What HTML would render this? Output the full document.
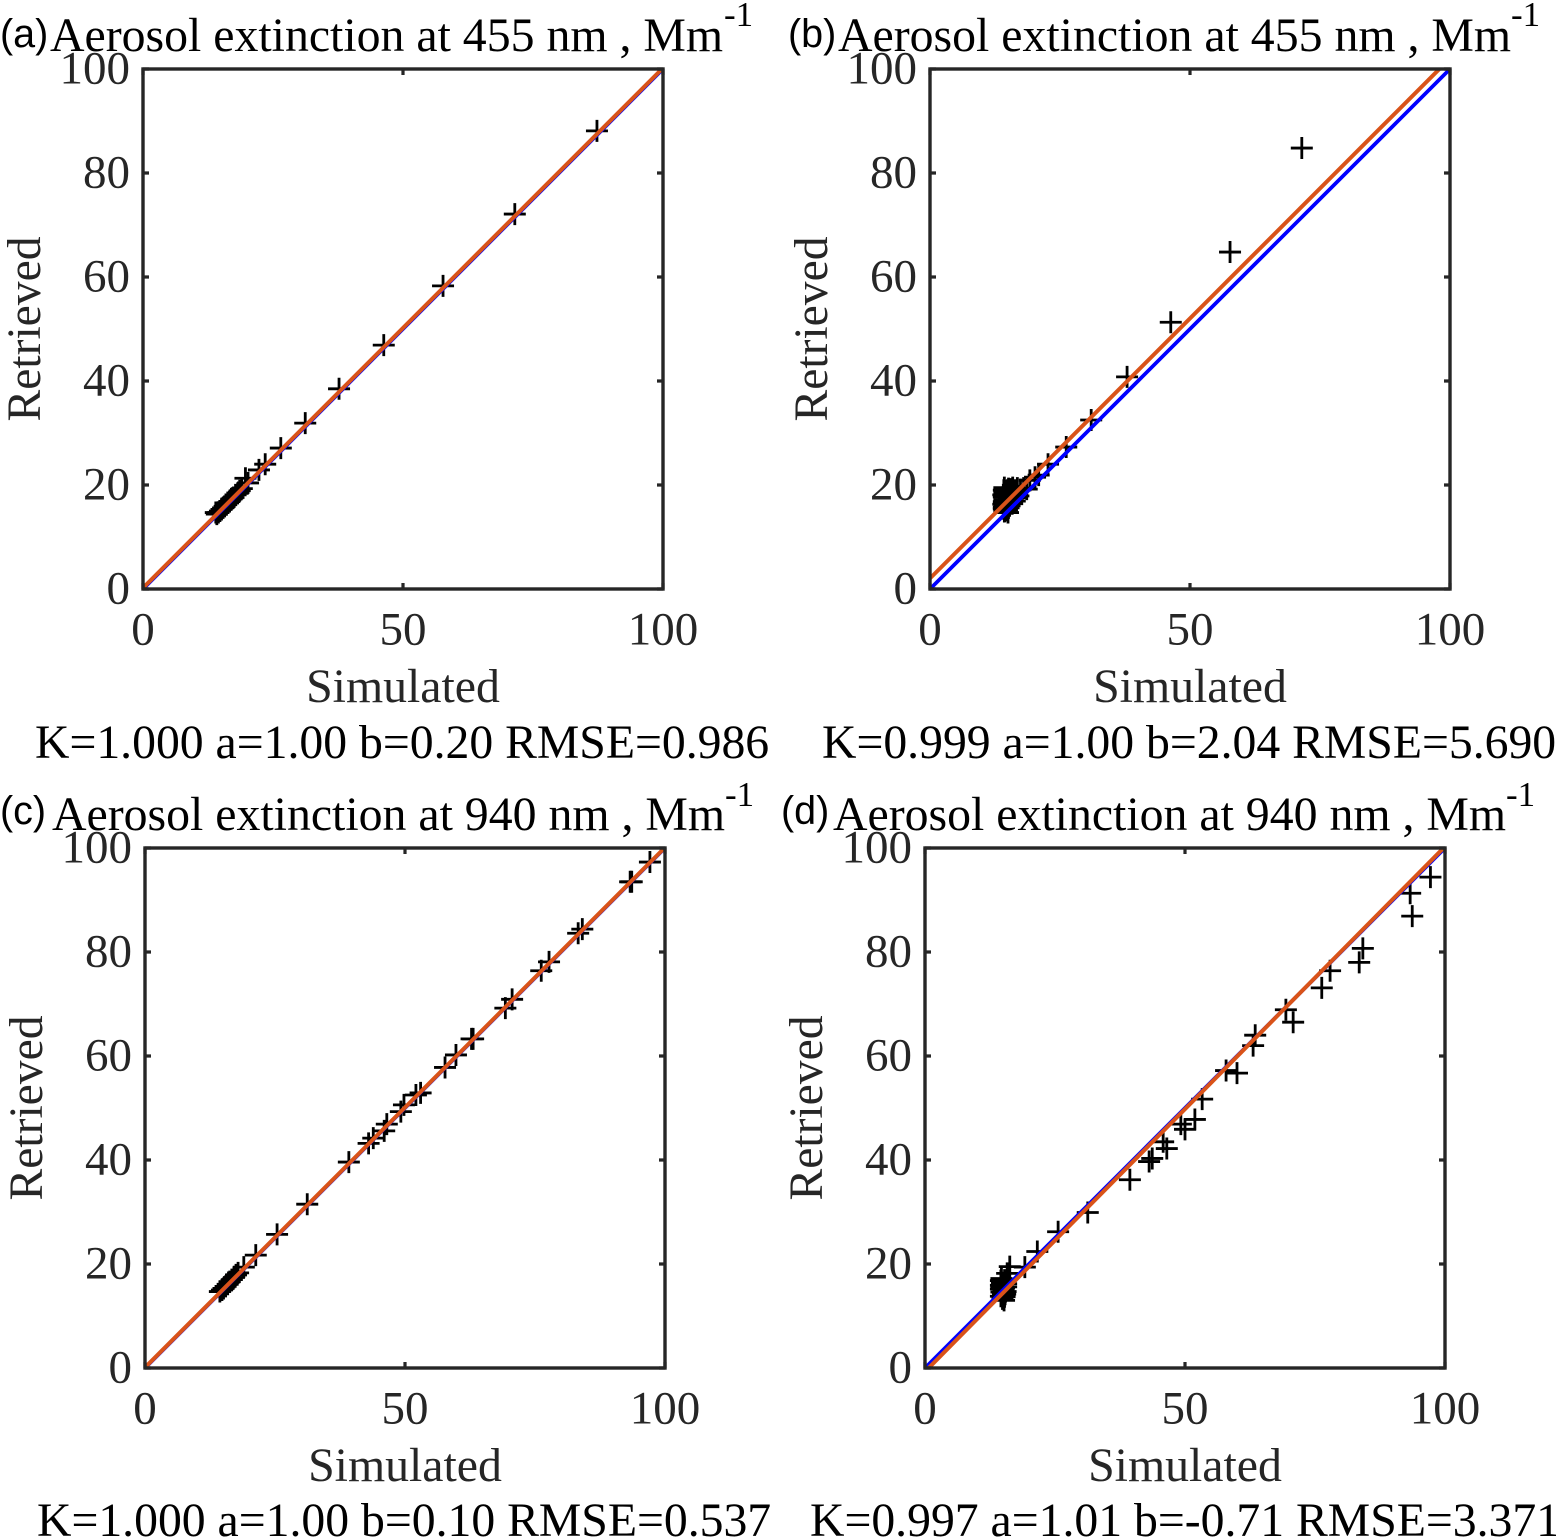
<!DOCTYPE html>
<html lang="en">
<head>
<meta charset="utf-8">
<title>Aerosol extinction retrieved vs simulated</title>
<style>
html,body{margin:0;padding:0;background:#fff;width:1556px;height:1538px;overflow:hidden}
svg{display:block}
text{font-family:"Liberation Serif","Times New Roman",serif}
</style>
</head>
<body>
<svg id="chart" xmlns="http://www.w3.org/2000/svg" width="1556" height="1538" viewBox="0 0 1556 1538"></svg>
<script>
const xTickLabels = [0, 50, 100];
const yTickLabels = [0, 20, 40, 60, 80, 100];
const panelLetters = ["(a)", "(b)", "(c)", "(d)"];
const titleTexts = ["Aerosol extinction at 455 nm , Mm", "Aerosol extinction at 455 nm , Mm", "Aerosol extinction at 940 nm , Mm", "Aerosol extinction at 940 nm , Mm"];
const statTexts = ["K=1.000 a=1.00 b=0.20 RMSE=0.986", "K=0.999 a=1.00 b=2.04 RMSE=5.690", "K=1.000 a=1.00 b=0.10 RMSE=0.537", "K=0.997 a=1.01 b=-0.71 RMSE=3.371"];
const fitSlopes = [1.00, 1.00, 1.00, 1.01];
const fitIntercepts = [0.20, 2.04, 0.10, -0.71];

const simulatedA = [87.3,71.5,57.7,46.3,37.7,31.2,26.5,23.5,22.3,20.2,19.7,19.0,18.6,18.2,17.8,17.4,17.0,16.6,16.3,16.0,15.7,15.4,15.1,14.8,14.5,14.2,14.0];
const retrievedA = [88.1,72.1,58.3,46.9,38.5,31.9,27.1,24.0,22.9,20.4,21.3,19.3,18.9,18.4,18.1,17.6,17.3,16.8,16.6,16.2,15.9,15.6,15.3,15.0,14.7,14.4,14.7];

const simulatedB = [71.5,57.7,46.3,37.9,31.0,26.2,22.7,20.9,20.2,19.2,18.6,18.0,17.4,16.8,16.3,15.9,15.5,15.1,14.7,14.3,14.2,14.3,14.1,14.2,14.3,14.2,14.1,14.3,14.2,14.4,14.2,14.3,14.9,15.1,14.8,15.2,15.0,14.9,15.3,15.1,14.8,15.0,15.7,15.9,15.6,16.0,15.8,16.4,16.7,16.3,17.0];
const retrievedB = [84.8,64.8,51.3,40.8,32.5,27.3,24.0,21.9,21.5,20.9,19.2,19.4,19.1,19.4,19.0,19.5,19.2,19.3,18.9,19.5,19.0,18.6,18.1,17.7,17.2,16.8,16.3,15.9,15.4,15.0,15.7,14.9,19.0,18.3,17.9,17.4,16.9,16.4,16.0,15.6,15.2,14.7,18.6,18.0,17.5,17.0,16.4,18.4,17.6,16.9,17.9];

const simulatedC = [97.1,93.3,93.6,83.3,84.1,77.7,76.2,70.6,69.3,63.1,62.8,59.8,57.7,53.0,52.1,49.8,49.2,46.5,46.0,43.9,43.0,39.2,31.2,25.4,21.3,19.0,17.9,17.5,17.1,16.7,16.3,15.9,15.5,15.1,14.8,14.4];
const retrievedC = [97.3,93.5,93.5,83.6,84.4,78.1,76.4,70.9,69.2,63.3,63.3,60.2,57.8,52.9,52.5,50.6,49.3,46.9,45.6,44.2,43.2,39.6,31.5,25.7,21.7,19.4,18.3,17.9,17.4,17.0,16.6,16.1,15.7,15.3,15.0,14.7];

const simulatedD = [97.2,93.3,93.7,84.2,83.5,77.9,76.3,69.4,70.8,63.5,63.1,57.9,60.0,53.3,51.9,50.0,49.2,45.8,46.5,43.7,43.1,39.4,31.3,25.6,21.6,19.2,16.3,15.8,15.4,14.9,14.6,15.2,14.7,15.5,15.0,14.6,15.3,14.9,15.2,15.6,14.8,15.4,14.7,14.6,14.8,14.6,14.7,15.3,15.6,15.1,15.4];
const retrievedD = [94.4,91.3,86.9,80.7,78.0,76.4,73.1,68.9,66.5,64.0,62.0,57.2,56.7,51.7,47.8,45.9,46.9,43.5,42.2,40.3,39.7,36.2,29.9,26.2,22.4,19.4,19.5,18.2,16.6,16.1,15.2,15.4,14.6,14.7,14.3,13.8,13.7,13.3,13.0,15.6,15.8,14.2,17.2,16.8,16.4,15.9,15.5,16.9,16.2,15.0,14.2];

const panelSimulated = [simulatedA, simulatedB, simulatedC, simulatedD];
const panelRetrieved = [retrievedA, retrievedB, retrievedC, retrievedD];

const layouts = [
  {key:"a", left:143, top:69,  letterX:0,   letterY:47,  titleX:50,  titleY:51,  supX:724,  supY:26,  statX:35,  statY:758,  yLabelX:40},
  {key:"b", left:930, top:69,  letterX:788, letterY:47,  titleX:838, titleY:51,  supX:1511, supY:26,  statX:822, statY:758,  yLabelX:827},
  {key:"c", left:145, top:848, letterX:0,   letterY:824, titleX:52,  titleY:830, supX:725,  supY:806, statX:37,  statY:1536, yLabelX:42},
  {key:"d", left:925, top:848, letterX:781, letterY:824, titleX:833, titleY:830, supX:1506, supY:806, statX:810, statY:1536, yLabelX:822}
];
const plotSize = 520;
const domainMax = 100;
const inkColor = "#262626";
const svg = document.getElementById("chart");
const NS = "http://www.w3.org/2000/svg";

function make(tag, attrs, parent, text) {
  const el = document.createElementNS(NS, tag);
  for (const k in attrs) el.setAttribute(k, attrs[k]);
  if (text !== undefined) el.textContent = text;
  parent.appendChild(el);
  return el;
}
function xScale(p, v) { return p.left + v / domainMax * plotSize; }
function yScale(p, v) { return p.top + plotSize - v / domainMax * plotSize; }

layouts.forEach(function (p, i) {
  const g = make("g", {}, svg);
  
  

  const clip = make("clipPath", {id: "clip-" + p.key}, g);
  make("rect", {x: p.left, y: p.top, width: plotSize, height: plotSize}, clip);

  const letter = make("text", {x: p.letterX, y: p.letterY, "font-size": 39.5, fill: "#000", style: 'font-family:"Liberation Sans",Arial,sans-serif'}, g, panelLetters[i]);
  
  

  const title = make("text", {x: p.titleX, y: p.titleY, "font-size": 47.8, fill: "#000"}, g, titleTexts[i]);
  
  

  const sup = make("text", {x: p.supX, y: p.supY, "font-size": 35, fill: "#000"}, g, "-1");
  
  

  const markers = make("g", {"clip-path": "url(#clip-" + p.key + ")", stroke: "#000", "stroke-width": 2.8, fill: "none"}, g);
  
  
  const sim = panelSimulated[i];
  const ret = panelRetrieved[i];
  sim.forEach(function (sv, j) {
    const cx = xScale(p, sv);
    const cy = yScale(p, ret[j]);
    const m = make("path", {d: "M" + (cx - 11) + " " + cy + "H" + (cx + 11) + "M" + cx + " " + (cy - 11) + "V" + (cy + 11)}, markers);
    
    
  });

  const lines = make("g", {"clip-path": "url(#clip-" + p.key + ")", fill: "none"}, g);
  const oneToOne = make("line", {x1: xScale(p, 0), y1: yScale(p, 0), x2: xScale(p, domainMax), y2: yScale(p, domainMax), stroke: "#0000ff", "stroke-width": 3.8}, lines);
  
  
  const fit = make("line", {x1: xScale(p, 0), y1: yScale(p, fitIntercepts[i]), x2: xScale(p, domainMax), y2: yScale(p, fitSlopes[i] * domainMax + fitIntercepts[i]), stroke: "#d95319", "stroke-width": 4}, lines);
  
  

  const axes = make("g", {stroke: inkColor, fill: "none"}, g);
  
  
  make("rect", {x: p.left, y: p.top, width: plotSize, height: plotSize, "stroke-width": 3.4}, axes);
  xTickLabels.forEach(function (t) {
    const x = xScale(p, t);
    make("path", {d: "M" + x + " " + (p.top + plotSize) + "v-6M" + x + " " + p.top + "v6", "stroke-width": 3.2}, axes);
    const lab = make("text", {x: x, y: p.top + plotSize + 55.5, "font-size": 47, fill: inkColor, stroke: "none", "text-anchor": "middle"}, g, String(t));
    
    
  });
  yTickLabels.forEach(function (t) {
    const y = yScale(p, t);
    make("path", {d: "M" + p.left + " " + y + "h6M" + (p.left + plotSize) + " " + y + "h-6", "stroke-width": 3.2}, axes);
    const lab = make("text", {x: p.left - 13, y: y + 14.5, "font-size": 47, fill: inkColor, stroke: "none", "text-anchor": "end"}, g, String(t));
    
    
  });

  const xLabel = make("text", {x: p.left + plotSize / 2, y: p.top + plotSize + 113, "font-size": 47.8, fill: inkColor, "text-anchor": "middle"}, g, "Simulated");
  
  

  const yCenter = p.top + plotSize / 2;
  const yLabel = make("text", {x: p.yLabelX, y: yCenter, "font-size": 47.6, fill: inkColor, "text-anchor": "middle", transform: "rotate(-90 " + p.yLabelX + " " + yCenter + ")"}, g, "Retrieved");
  
  

  const stat = make("text", {x: p.statX, y: p.statY, "font-size": 47.7, fill: "#000"}, g, statTexts[i]);
  
  
});
</script>
</body>
</html>
